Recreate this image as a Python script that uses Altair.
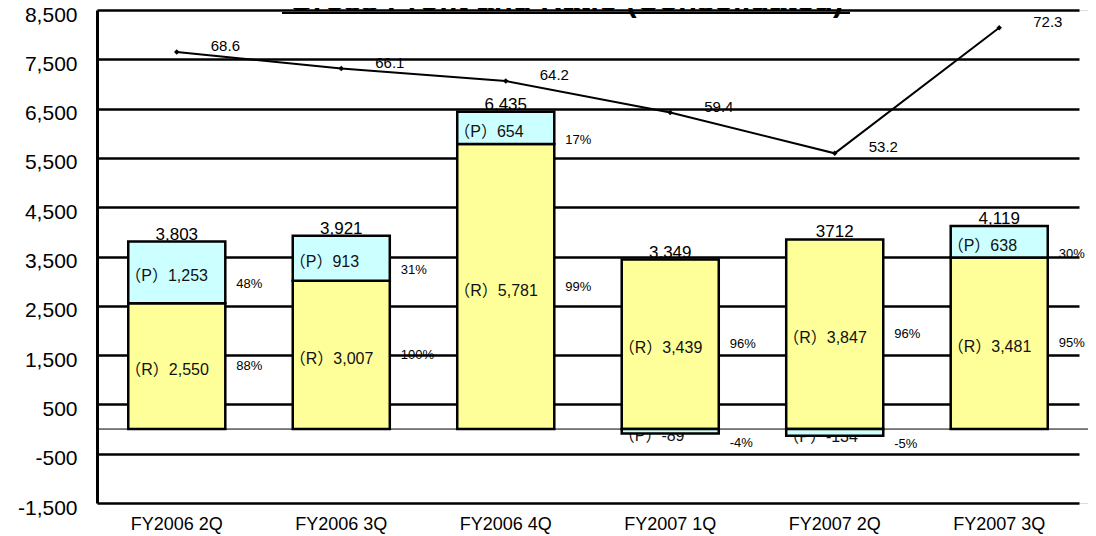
import altair as alt
import pandas as pd

# ---- data ----
categories = ["FY2006 2Q", "FY2006 3Q", "FY2006 4Q", "FY2007 1Q", "FY2007 2Q", "FY2007 3Q"]
r_values = [2550, 3007, 5781, 3439, 3847, 3481]
p_values = [1253, 913, 654, -89, -134, 638]
total_labels = ["3,803", "3,921", "6,435", "3,349", "3712", "4,119"]
p_pct = ["48%", "31%", "17%", "-4%", "-5%", "30%"]
r_pct = ["88%", "100%", "99%", "96%", "96%", "95%"]
ratio = [68.6, 66.1, 64.2, 59.4, 53.2, 72.3]
y_ticks = [-1500, -500, 500, 1500, 2500, 3500, 4500, 5500, 6500, 7500, 8500]
title_text = "Gross Profit and Ratio (Consolidated)"

df = pd.DataFrame({"cat": categories, "R": r_values, "P": p_values,
                   "total": total_labels, "ppct": p_pct, "rpct": r_pct, "ratio": ratio})
df["r0"] = 0
df["r1"] = df["R"]
df["p0"] = [r if p >= 0 else 0 for r, p in zip(df["R"], df["P"])]
df["p1"] = [r + p if p >= 0 else p for r, p in zip(df["R"], df["P"])]
df["pmid"] = (df["p0"] + df["p1"]) / 2
df["rmid"] = df["R"] / 2
df["top"] = [max(r, r + p) for r, p in zip(df["R"], df["P"])]
df["plab"] = ["（P）" + format(p, ",") for p in df["P"]]
df["rlab"] = ["（R）" + format(r, ",") for r in df["R"]]

FONT = "Liberation Sans"
CJK = "Liberation Sans, Noto Sans CJK JP"

x_scale = alt.Scale(range=[0, 982], paddingInner=0.41, paddingOuter=0.19)
x_axis = alt.Axis(labelAngle=0, labelFontSize=18, labelPadding=12, domain=False, ticks=False,
                  labelFont=FONT, labelColor="black", grid=False)


def xenc(bp=None):
    if bp is None:
        return alt.X("cat:N", sort=categories, title=None, scale=x_scale, axis=x_axis)
    return alt.X("cat:N", sort=categories, title=None, scale=x_scale, axis=x_axis, bandPosition=bp)


y_scale = alt.Scale(domain=[-1500, 8500], nice=False, zero=False)
y_axis = alt.Axis(values=y_ticks, grid=True, gridColor="black", gridWidth=2.5,
                  labelExpr="replace(format(datum.value, ',.0f'), '\u2212', '-')",
                  gridOpacity=1, domain=True, domainColor="black", domainWidth=3, ticks=False,
                  labelFontSize=21, labelPadding=20, labelFont=FONT, labelColor="black",
                  labelOffset=5)


def yenc(field):
    return alt.Y(field, scale=y_scale, axis=y_axis, title=None)


base = alt.Chart(df)

neg_p_labels = base.transform_filter("datum.P < 0").mark_text(
    align="left", baseline="middle", fontSize=16, font=CJK, dx=-3, dy=5, color="#111"
).encode(x=xenc(0), y=yenc("pmid:Q"), text="plab:N")

r_bars = base.mark_bar(fill="#FFFF99", stroke="black", strokeWidth=2.5).encode(
    x=xenc(), y=yenc("r0:Q"), y2="r1:Q")
p_bars = base.mark_bar(fill="#CCFFFF", stroke="black", strokeWidth=2.5).encode(
    x=xenc(), y=yenc("p0:Q"), y2="p1:Q")

zero_rule = alt.Chart(pd.DataFrame({"z": [0]})).mark_rule(color="black", strokeWidth=1).encode(
    y=yenc("z:Q"))

tot_labels = base.mark_text(align="center", baseline="alphabetic", fontSize=17, font=FONT,
                            dy=-2, color="black").encode(x=xenc(), y=yenc("top:Q"), text="total:N")

pos_p_labels = base.transform_filter("datum.P >= 0").mark_text(
    align="left", baseline="middle", fontSize=16, font=CJK, dx=-3, dy=4, color="#111"
).encode(x=xenc(0), y=yenc("pmid:Q"), text="plab:N")

r_labels = base.mark_text(align="left", baseline="middle", fontSize=16, font=CJK, dx=-3, dy=4,
                          color="#111").encode(x=xenc(0), y=yenc("rmid:Q"), text="rlab:N")

p_pct_labels = base.mark_text(align="left", baseline="middle", fontSize=13, font=FONT, dx=11,
                              dy=12, color="black").encode(x=xenc(1), y=yenc("pmid:Q"), text="ppct:N")
r_pct_labels = base.mark_text(align="left", baseline="middle", fontSize=13, font=FONT, dx=11,
                              dy=0, color="black").encode(x=xenc(1), y=yenc("rmid:Q"), text="rpct:N")

title_df = pd.DataFrame({"t": [title_text]})
title_mark = alt.Chart(title_df).mark_text(
    fontSize=31, fontWeight="bold", font=FONT, baseline="alphabetic", align="center", color="black"
).encode(text="t:N", x=alt.value(469), y=alt.value(1))
underline = alt.Chart(title_df).mark_rule(color="black", strokeWidth=2).encode(
    x=alt.value(185), x2=alt.value(753), y=alt.value(3))

left_layer = alt.layer(neg_p_labels, r_bars, p_bars, zero_rule, tot_labels, pos_p_labels,
                       r_labels, p_pct_labels, r_pct_labels, title_mark, underline)

ry = alt.Y("ratio:Q", scale=alt.Scale(domain=[0, 75], nice=False, zero=False), axis=None)
line = base.mark_line(color="black", strokeWidth=2).encode(x=xenc(), y=ry)
pts = base.mark_point(shape="diamond", filled=True, color="black", size=30, opacity=1).encode(
    x=xenc(), y=ry)
ratio_labels = base.mark_text(align="left", baseline="middle", dx=34, dy=-6, fontSize=15,
                              font=FONT, color="black").encode(
    x=xenc(), y=ry, text=alt.Text("ratio:Q", format=".1f"))
right_layer = alt.layer(line, pts, ratio_labels)

chart = alt.layer(left_layer, right_layer).resolve_scale(y="independent").properties(
    width=991, height=493,
    autosize=alt.AutoSizeParams(type="none"),
    padding={"left": 89, "top": 2, "right": 0, "bottom": 33},
).configure_view(stroke=None).configure(background="white")

chart.save("out.html", embed_options={"renderer": "svg", "actions": False})
